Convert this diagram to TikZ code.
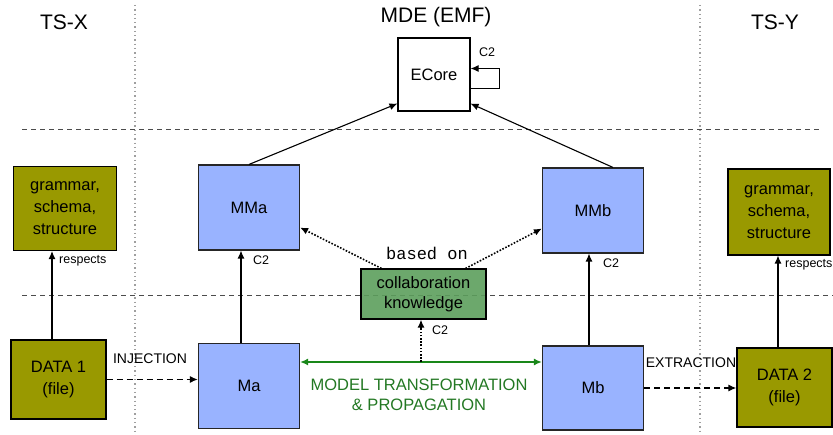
\documentclass[tikz,border=0pt]{standalone}
\usepackage{fontspec}
\setmainfont{Liberation Sans}
\setmonofont{Liberation Mono}
\usetikzlibrary{arrows.meta}

\definecolor{olivebox}{RGB}{153,153,0}
\definecolor{metablue}{RGB}{153,179,255}
\definecolor{collabgreen}{RGB}{92,158,92}
\definecolor{transgreen}{RGB}{25,135,25}
\definecolor{transtext}{RGB}{35,120,35}

\tikzset{
  box/.style={draw, line width=1.1pt, inner sep=2pt, align=center,
    font=\fontsize{16.5}{22}\selectfont},
  spacebox/.style={box, fill=olivebox},
  metabox/.style={box, fill=metablue, draw=black!85, minimum width=101pt, minimum height=85pt},
  title/.style={font=\fontsize{21}{24}\selectfont},
  small/.style={font=\fontsize{12.5}{14}\selectfont, inner sep=0pt},
  opname/.style={font=\fontsize{14}{16}\selectfont, inner sep=0pt},
  arr/.style={-{Latex[length=8pt,width=7pt]}, line width=1.1pt},
  dasharr/.style={arr, line width=1.5pt, dash pattern=on 6pt off 4pt},
  dotarr/.style={arr, line width=1.6pt, dash pattern=on 1.6pt off 1.6pt},
  vsep/.style={gray!75, line width=1.3pt, dash pattern=on 1.3pt off 3pt},
  hsep/.style={black!70, line width=1pt, dash pattern=on 5pt off 4pt},
}

\begin{document}
\begin{tikzpicture}[x=1pt, y=-1pt]
  \useasboundingbox (0,0) rectangle (833,435);

  % technical spaces
  \draw[vsep] (135,5) -- (135,435);
  \draw[vsep] (700,5) -- (700,435);
  \draw[hsep] (22,130) -- (822,130);
  \draw[hsep] (22,296) -- (833,296);

  \node[title] at (64,22) (tsx) {TS-X};
  \node[title] at (436,17) (mde) {MDE (EMF)};
  \node[title] at (775,22) (tsy) {TS-Y};

  % boxes
  \node[box, fill=white, minimum width=72pt, minimum height=73pt] at (434,74.5) (ecore) {ECore};
  \node[metabox] at (249,207.5) (mma) {MMa};
  \node[metabox] at (593,210.5) (mmb) {MMb};
  \node[metabox] at (249,386) (ma) {Ma};
  \node[metabox, minimum height=84pt] at (593,388) (mb) {Mb};
  \node[spacebox, minimum width=103pt, minimum height=84pt] at (65,208.5) (gramx) {grammar,\\schema,\\structure};
  \node[spacebox, minimum width=102pt, minimum height=86pt] at (779,212) (gramy) {grammar,\\schema,\\structure};
  \node[spacebox, minimum width=95pt, minimum height=79pt] at (58.5,379.5) (data1) {DATA 1\\(file)};
  \node[spacebox, minimum width=95pt, minimum height=79pt] at (784.5,387.5) (data2) {DATA 2\\(file)};
  \node[box, fill=collabgreen, fill opacity=0.9, text opacity=1, minimum width=125pt, minimum height=50pt,
    font=\fontsize{16.5}{20}\selectfont] at (423.5,294) (collab) {collaboration\\knowledge};

  % conformance
  \draw[arr] (mma.north) -- ([yshift=8pt]ecore.south west);
  \draw[arr] ([xshift=20pt]mmb.north) -- ([yshift=8pt]ecore.south east);
  \draw[arr] ([yshift=-14pt]ecore.east) -- ++(29,0) -- ++(0,-20) -- ([yshift=6pt]ecore.east);
  \node[small] at (487,52) (c2e) {C2};
  \draw[arr] ([xshift=-8pt]ma.north) -- ([xshift=-8pt]mma.south);
  \node[small] at (261,260) (c2a) {C2};
  \draw[arr] ([xshift=-4pt]mb.north) -- ([xshift=-4pt]mmb.south);
  \node[small] at (611,263) (c2b) {C2};

  \draw[arr] ([xshift=-6.5pt]data1.north) -- ([xshift=-6.5pt]data1.north |- gramx.south);
  \node[small, anchor=west] at (59,261) (respx) {respects};
  \draw[arr] ([xshift=-6.5pt]data2.north) -- ([xshift=-6.5pt]data2.north |- gramy.south);
  \node[small, anchor=west] at (785,265) (respy) {respects};

  % collaboration knowledge
  \draw[dotarr] ([xshift=21pt]collab.north west) -- ([yshift=-20pt]mma.east);
  \draw[dotarr] ([xshift=-21pt]collab.north east) -- ([yshift=-18pt]mmb.west);
  \node[font=\ttfamily\fontsize{17}{19}\selectfont, inner sep=0pt] at (427,253) (based) {based on};

  % transformation
  \draw[{Latex[length=8pt,width=7pt]}-{Latex[length=8pt,width=7pt]}, transgreen, line width=1.6pt]
    ([yshift=24pt]ma.east) -- ([yshift=24pt]ma.east -| mb.west);
  \coordinate (t) at (421,362);
  \draw[dotarr] (t) -- (t |- collab.south);
  \node[small] at (440,330) (c2t) {C2};
  \node[transtext, align=center, font=\fontsize{16.5}{20.5}\selectfont] at (419,395) (trans)
    {MODEL TRANSFORMATION\\\& PROPAGATION};

  \draw[dasharr] (data1.east) -- (data1.east -| ma.west);
  \node[opname] at (150,359) (inj) {INJECTION};
  \draw[dasharr] (mb.east) -- (mb.east -| data2.west);
  \node[opname] at (691,363) (extr) {EXTRACTION};
\end{tikzpicture}
\end{document}
